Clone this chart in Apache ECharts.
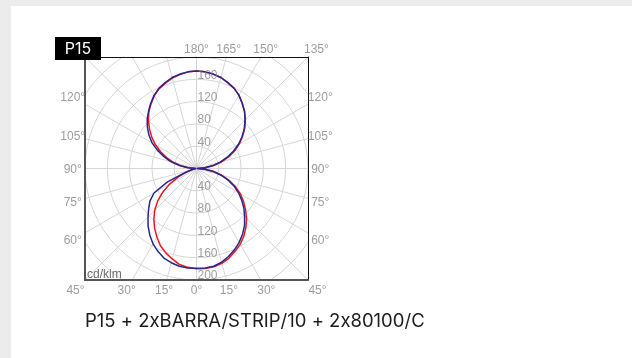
<!DOCTYPE html>
<html>
<head>
<meta charset="utf-8">
<script src="https://cdn.jsdelivr.net/npm/echarts@6/dist/echarts.min.js"></script>
<style>
  html, body { margin: 0; padding: 0; background: #ececec; }
  #card { position: absolute; left: 11px; top: 6px; right: 0; bottom: 0; background: #fff; }
  #chart { position: absolute; left: 0; top: 0; width: 632px; height: 358px; }
</style>
</head>
<body>
<div id="card"></div>
<div id="chart"></div>
<script>
// intensity in cd/klm every 5 deg, 0 = straight down, 90 = horizontal, 180 = straight up
const angles = [0, 5, 10, 15, 20, 25, 30, 35, 40, 45, 50, 55, 60, 65, 70, 75, 80, 85, 90,
                95, 100, 105, 110, 115, 120, 125, 130, 135, 140, 145, 150, 155, 160, 165, 170, 175, 180];
const redLeft   = [180, 178, 175, 168, 161, 153, 142, 131, 119, 106, 91, 74, 55, 36, 20, 10, 5, 2, 1,
                   15, 29, 43, 57, 71, 85, 98, 110, 122, 133, 142, 151, 158, 163, 168, 171, 174, 175];
const redRight  = [180, 180, 179, 176, 171, 164, 157, 148, 138, 127, 115, 103, 91, 77, 62, 47, 32, 16, 2,
                   16, 31, 47, 62, 76, 89, 101, 113, 124, 134, 143, 152, 159, 164, 169, 172, 174, 175];
const blueLeft  = [179, 179, 178, 175, 171, 164, 156, 146, 135, 123, 112, 102, 88, 58, 24, 10, 5, 2, 1,
                   15, 31, 48, 62, 77, 92, 104, 115, 125, 134, 143, 152, 159, 164, 169, 172, 174, 175];
const blueRight = [179, 179, 178, 174, 168, 161, 153, 144, 134, 122, 111, 99, 87, 74, 60, 45, 30, 15, 1,
                   15, 30, 44, 58, 73, 87, 100, 112, 123, 134, 143, 152, 159, 164, 169, 172, 174, 175];

const ringTicks = [40, 80, 120, 160, 200];
const upperRingTicks = [40, 80, 120, 160];
const sideLabelAngles = [60, 75, 90, 105, 120];
const bottomLabelAngles = [-45, -30, -15, 0, 15, 30, 45];
const topLabelAngles = [180, 165, 150, 135];
const unitLabel = 'cd/klm';
const badge = 'P15';
const caption = 'P15 + 2xBARRA/STRIP/10 + 2x80100/C';

const RED = '#ee1620';
const BLUE = '#262690';
const GRIDLINE = '#d6d6d6';
const LABEL = '#858585';

const rad = d => d * Math.PI / 180;
const H = angles.indexOf(90);

// one closed loop per colour: centre -> down the left -> up the right -> back down the left
const loop = (left, right) => {
  const pts = [];
  for (let i = H; i >= 0; i--) pts.push([left[i], angles[i]]);
  for (let i = 1; i < angles.length; i++) pts.push([right[i], 360 - angles[i]]);
  for (let i = angles.length - 2; i >= H; i--) pts.push([left[i], angles[i]]);
  return pts;
};

const angleLabelData = () => {
  const out = [];
  const side = 222, bottom = 217, top = 215;
  sideLabelAngles.forEach(a => {
    const y = -side / Math.tan(rad(a));
    out.push({ name: a + '°', value: [-side, y] });
    out.push({ name: a + '°', value: [side, y] });
  });
  bottomLabelAngles.forEach(a => {
    out.push({ name: Math.abs(a) + '°', value: [bottom * Math.tan(rad(a)), -bottom] });
  });
  topLabelAngles.forEach(a => {
    out.push({ name: a + '°', value: [top * Math.tan(rad(180 - a)), top] });
  });
  return out;
};

const ringLabelData = () => [
  ...ringTicks.map(r => ({ name: String(r), value: [r, 0] })),
  ...upperRingTicks.map(r => ({ name: String(r), value: [r, 180] }))
];

// Inter turns "2x8" into "2×8", so the caption is drawn as separate rich tokens
const captionRich = () => caption
  .split(/(?<=\d)(?=x\d)/)
  .map(p => '{c|' + p + '}')
  .join('');

const boxAxis = (pos, color, width) => ({
  type: 'value', min: -200, max: 200, position: pos, z: 5,
  axisLine: { onZero: false, lineStyle: { color: color, width: width } },
  axisTick: { show: false }, axisLabel: { show: false }, splitLine: { show: false }
});

const mask = (x, y, w, h) => ({
  type: 'rect', silent: true, z: 4,
  shape: { x: x, y: y, width: w, height: h },
  style: { fill: '#fff' }
});

const getOption = () => {
  return {
    animation: false,
    textStyle: { fontFamily: '"Liberation Sans", Arial, sans-serif' },
    grid: { left: 85, top: 57, width: 223, height: 223 },
    xAxis: [boxAxis('bottom', '#555', 2), boxAxis('top', '#111', 1)],
    yAxis: [boxAxis('left', '#555', 2), boxAxis('right', '#111', 1)],
    polar: { center: [196.5, 168.5], radius: 156.1 },
    angleAxis: {
      type: 'value', min: 0, max: 360, interval: 15, startAngle: 270, clockwise: true,
      axisLine: { show: false }, axisTick: { show: false }, axisLabel: { show: false },
      splitLine: { show: true, lineStyle: { color: GRIDLINE, width: 1 } }
    },
    radiusAxis: {
      type: 'value', min: 0, max: 280, interval: 40,
      axisLine: { show: false }, axisTick: { show: false }, axisLabel: { show: false },
      splitLine: { show: true, lineStyle: { color: GRIDLINE, width: 1 } }
    },
    graphic: [
      mask(11, 6, 621, 50.5),
      mask(11, 280.5, 621, 78),
      mask(11, 56, 73.5, 225),
      mask(308.5, 56, 324, 225),
      {
        type: 'text', z: 10, silent: true, x: 87, y: 275,
        style: { text: unitLabel, fill: '#6a6a6a', font: '12px "Liberation Sans", Arial, sans-serif', verticalAlign: 'middle' }
      },
      {
        type: 'rect', z: 10, silent: true,
        shape: { x: 55, y: 37, width: 46, height: 23 },
        style: { fill: '#000' }
      },
      {
        type: 'text', z: 11, silent: true, x: 78, y: 49,
        style: { text: badge, fill: '#fff', font: '16px Inter, sans-serif', align: 'center', verticalAlign: 'middle' }
      },
      {
        type: 'text', z: 10, silent: true, x: 85, y: 321,
        style: {
          text: captionRich(), verticalAlign: 'middle',
          rich: { c: { fill: '#1c1c1c', fontFamily: 'Inter, sans-serif', fontSize: 18.5 } }
        }
      }
    ],
    series: [
      {
        type: 'line', coordinateSystem: 'polar', data: loop(redLeft, redRight),
        smooth: false, symbol: 'none', silent: true, z: 3,
        lineStyle: { color: RED, width: 1.5, join: 'round' }
      },
      {
        type: 'line', coordinateSystem: 'polar', data: loop(blueLeft, blueRight),
        smooth: false, symbol: 'none', silent: true, z: 3,
        lineStyle: { color: BLUE, width: 1.5, join: 'round' }
      },
      {
        type: 'scatter', coordinateSystem: 'polar', data: ringLabelData(),
        symbolSize: 0, silent: true, z: 4,
        label: { show: true, position: 'right', distance: 1, offset: [0, -4], formatter: '{b}', color: LABEL, fontSize: 12 }
      },
      {
        type: 'scatter', xAxisIndex: 0, yAxisIndex: 0, data: angleLabelData(),
        symbolSize: 0, clip: false, silent: true, z: 6,
        label: { show: true, position: 'inside', offset: [0, 1], formatter: '{b}', color: LABEL, fontSize: 12 }
      }
    ]
  };
};

const initChart = () => {
  const chart = echarts.init(document.getElementById('chart'));
  chart.setOption(getOption());
};

window.addEventListener('load', () => {
  initChart();
});
</script>
</body>
</html>
